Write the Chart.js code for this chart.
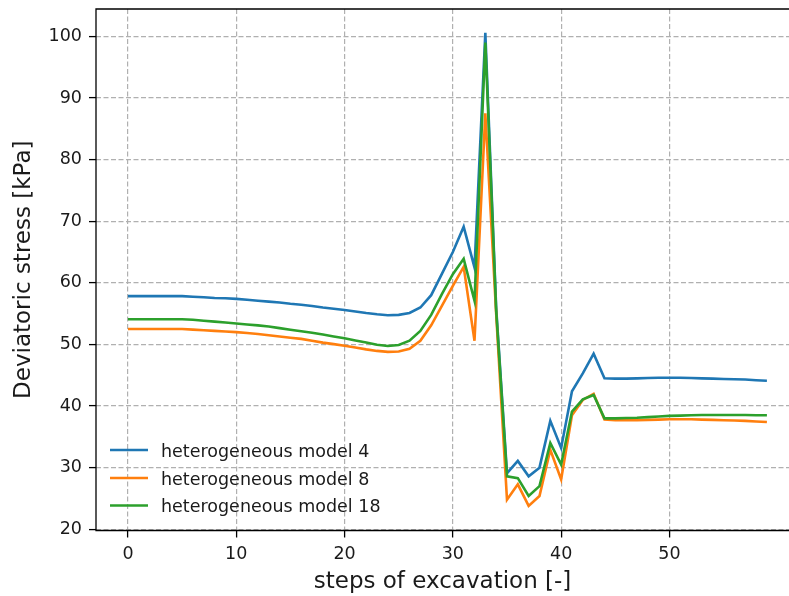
<!DOCTYPE html>
<html>
<head>
<meta charset="utf-8">
<script src="https://cdn.jsdelivr.net/npm/chart.js@4.4.1/dist/chart.umd.min.js"></script>
<style>
  html, body { margin: 0; padding: 0; background: #ffffff; overflow: hidden; width: 789px; height: 596px; }
  canvas { display: block; }
</style>
</head>
<body>
<canvas id="c" width="789" height="596"></canvas>
<script>
const steps = [0,1,2,3,4,5,6,7,8,9,10,11,12,13,14,15,16,17,18,19,20,21,22,23,24,25,26,27,28,29,
               30,31,32,33,34,35,36,37,38,39,40,41,42,43,44,45,46,47,48,49,50,51,52,53,54,55,56,57,58,59];

const model4 = [57.85,57.85,57.85,57.85,57.85,57.85,57.75,57.65,57.55,57.5,
                57.4,57.25,57.1,56.95,56.8,56.6,56.45,56.25,56.0,55.8,
                55.6,55.35,55.1,54.9,54.75,54.8,55.1,56.0,58.0,61.5,
                65.0,69.1,62.5,100.6,56.0,29.1,31.1,28.6,30.0,37.6,
                33.2,42.4,45.3,48.5,44.5,44.45,44.45,44.5,44.55,44.6,
                44.6,44.6,44.55,44.5,44.45,44.4,44.35,44.3,44.2,44.1];

const model8 = [52.5,52.5,52.5,52.5,52.5,52.5,52.4,52.3,52.2,52.1,
                52.0,51.85,51.7,51.5,51.3,51.1,50.9,50.6,50.3,50.05,
                49.8,49.5,49.2,48.95,48.8,48.85,49.3,50.6,53.1,56.3,
                59.5,62.6,50.6,87.5,55.0,24.8,27.3,23.8,25.4,32.9,
                28.1,38.5,41.0,42.0,37.8,37.7,37.7,37.7,37.75,37.8,
                37.85,37.85,37.85,37.8,37.75,37.7,37.65,37.6,37.5,37.4];

const model18 = [54.1,54.1,54.1,54.1,54.1,54.1,54.0,53.85,53.7,53.55,
                 53.4,53.25,53.1,52.9,52.65,52.4,52.15,51.9,51.6,51.3,
                 51.0,50.65,50.3,49.95,49.75,49.9,50.6,52.2,54.8,58.2,
                 61.4,63.9,57.1,99.0,55.5,28.6,28.3,25.4,27.0,34.0,
                 30.5,39.1,41.1,41.8,38.0,38.0,38.05,38.1,38.2,38.3,
                 38.4,38.45,38.5,38.55,38.55,38.55,38.55,38.55,38.5,38.5];

const seriesLabels = ['heterogeneous model 4', 'heterogeneous model 8', 'heterogeneous model 18'];
const xTickValues = [0, 10, 20, 30, 40, 50];
const yTickValues = [20, 30, 40, 50, 60, 70, 80, 90, 100];
const xTitle = 'steps of excavation [-]';
const yTitle = 'Deviatoric stress [kPa]';

const colors = ['#1f77b4', '#ff7f0e', '#2ca02c'];
const FONT = '"DejaVu Sans", "Liberation Sans", sans-serif';
const TEXT = '#1a1a1a';

const seriesValues = [model4, model8, model18];
const datasets = seriesValues.map((vals, k) => ({
  label: seriesLabels[k],
  data: steps.map((s, i) => ({ x: s, y: vals[i] })),
  borderColor: colors[k],
  backgroundColor: colors[k],
  borderWidth: 2.6,
  pointRadius: 0,
  tension: 0,
  fill: false,
  order: 2 - k
}));

// axes frame: top, left, bottom (the right spine lies beyond the picture edge)
const framePlugin = {
  id: 'frame',
  afterDatasetsDraw(chart) {
    const a = chart.chartArea, ctx = chart.ctx;
    ctx.save();
    ctx.strokeStyle = '#000';
    ctx.lineWidth = 1.3;
    ctx.setLineDash([]);
    ctx.beginPath();
    ctx.moveTo(chart.width + 2, a.top);
    ctx.lineTo(a.left, a.top);
    ctx.lineTo(a.left, a.bottom);
    ctx.lineTo(chart.width + 2, a.bottom);
    ctx.stroke();
    ctx.restore();
  }
};

const legendPlugin = {
  id: 'mplLegend',
  afterDraw(chart) {
    const ctx = chart.ctx;
    const ys = [450, 478, 505.5];
    ctx.save();
    ctx.font = '17.5px ' + FONT;
    ctx.textBaseline = 'alphabetic';
    ctx.textAlign = 'left';
    seriesLabels.forEach((lab, k) => {
      ctx.strokeStyle = colors[k];
      ctx.lineWidth = 2.6;
      ctx.setLineDash([]);
      ctx.beginPath();
      ctx.moveTo(110, ys[k]);
      ctx.lineTo(148, ys[k]);
      ctx.stroke();
      ctx.fillStyle = TEXT;
      ctx.fillText(lab, 161, ys[k] + 6.5);
    });
    ctx.restore();
  }
};

const gridCommon = {
  color: '#b0b0b0',
  lineWidth: 1.2,
  drawTicks: true,
  tickLength: 7,
  tickColor: '#000',
  tickWidth: 1.3,
  tickBorderDash: []
};

new Chart(document.getElementById('c'), {
  type: 'line',
  data: { datasets },
  plugins: [framePlugin, legendPlugin],
  options: {
    responsive: false,
    devicePixelRatio: 1,
    animation: false,
    events: [],
    layout: { padding: { top: 9, right: 0, left: 0, bottom: 0 } },
    plugins: {
      legend: { display: false },
      tooltip: { enabled: false },
      title: { display: false }
    },
    scales: {
      x: {
        type: 'linear',
        min: -2.95,
        max: 61.04,
        afterBuildTicks(scale) { scale.ticks = xTickValues.map(v => ({ value: v })); },
        afterFit(scale) {
          scale.height = 65.5;
          scale.paddingLeft = 0; scale.paddingRight = 0;
        },
        grid: gridCommon,
        border: { display: false, dash: [5, 2.5] },
        ticks: {
          font: { family: FONT, size: 17.5 },
          color: TEXT,
          padding: 6,
          maxRotation: 0,
          autoSkip: false
        },
        title: {
          display: true,
          text: xTitle,
          font: { family: FONT, size: 23 },
          color: TEXT,
          padding: { top: 0, bottom: 0 }
        }
      },
      y: {
        type: 'linear',
        min: 19.8,
        max: 104.45,
        afterBuildTicks(scale) { scale.ticks = yTickValues.map(v => ({ value: v })); },
        afterFit(scale) {
          scale.width = 96;
          scale.paddingTop = 0; scale.paddingBottom = 0;
        },
        grid: gridCommon,
        border: { display: false, dash: [5, 2.5] },
        ticks: {
          font: { family: FONT, size: 17.5 },
          color: TEXT,
          padding: 7,
          autoSkip: false
        },
        title: {
          display: true,
          text: yTitle,
          font: { family: FONT, size: 23 },
          color: TEXT,
          padding: { top: 10, bottom: 0 }
        }
      }
    }
  }
});
</script>
</body>
</html>
